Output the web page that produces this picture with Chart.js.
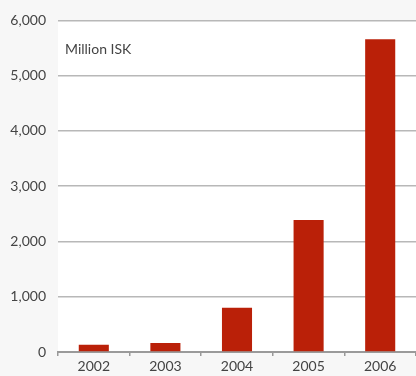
<!DOCTYPE html>
<html>
<head>
<meta charset="utf-8">
<script src="https://cdn.jsdelivr.net/npm/chart.js@4/dist/chart.umd.min.js"></script>
<style>
  html, body { margin: 0; padding: 0; background: #f7f7f7; }
  #wrap { width: 416px; height: 376px; }
</style>
</head>
<body>
<div id="wrap"><canvas id="chart"></canvas></div>
<script>
// Yearly figures, million ISK
var years = ['2002', '2003', '2004', '2005', '2006'];
var amounts = [130, 165, 800, 2390, 5660];
var yTicks = [0, 1000, 2000, 3000, 4000, 5000, 6000];
var unitLabel = 'Million ISK';

var font = { family: 'Lato, "Open Sans", sans-serif', size: 14 };

// white plot panel plus the unit caption in its top-left corner
var panel = {
  id: 'panel',
  beforeDraw: function(chart) {
    var a = chart.chartArea, ctx = chart.ctx;
    ctx.save();
    ctx.fillStyle = '#ffffff';
    ctx.fillRect(a.left, a.top, a.right - a.left, a.bottom - a.top);
    ctx.restore();
  },
  afterDraw: function(chart) {
    var a = chart.chartArea, ctx = chart.ctx;
    ctx.save();
    ctx.font = font.size + 'px ' + font.family;
    ctx.fillStyle = '#444444';
    ctx.textBaseline = 'middle';
    ctx.fillText(unitLabel, a.left + 7, a.top + 29);
    ctx.restore();
  }
};

new Chart(document.getElementById('chart'), {
  type: 'bar',
  data: {
    labels: years,
    datasets: [{
      data: amounts,
      backgroundColor: '#ba2008',
      barPercentage: 0.42,
      categoryPercentage: 1
    }]
  },
  options: {
    responsive: true,
    maintainAspectRatio: false,
    animation: false,
    layout: { padding: { top: 20, left: 0, right: 0, bottom: 0 } },
    plugins: { legend: { display: false }, tooltip: { enabled: false } },
    scales: {
      x: {
        grid: { drawOnChartArea: false, drawTicks: true, tickLength: 4, color: '#999999', lineWidth: 1.5 },
        border: { color: '#9a9a9a', width: 2 },
        ticks: { color: '#444444', font: font, padding: 2 },
        afterFit: function(s) { s.height = 24; }
      },
      y: {
        min: 0,
        max: 6000,
        afterBuildTicks: function(s) { s.ticks = yTicks.map(function(v) { return { value: v }; }); },
        grid: { drawTicks: false, color: '#b8b8b8', lineWidth: 1.5 },
        border: { display: false },
        ticks: {
          color: '#444444',
          font: font,
          padding: 12,
          callback: function(v) { return v.toLocaleString('en-US'); }
        },
        afterFit: function(s) { s.width = 58; }
      }
    }
  },
  plugins: [panel]
});
</script>
</body>
</html>
